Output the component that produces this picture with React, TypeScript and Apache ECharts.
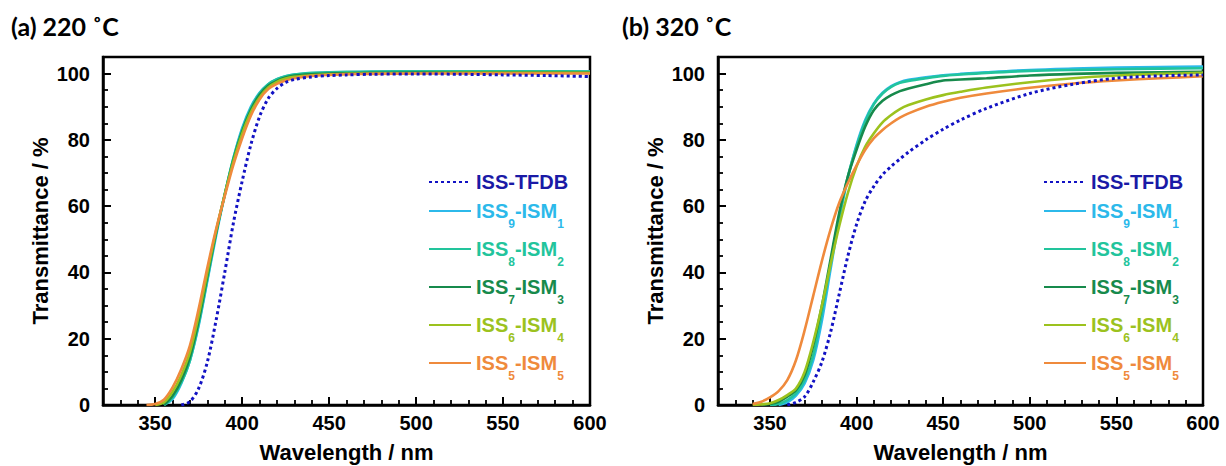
import React, { useEffect, useRef } from 'react';
import * as echarts from 'echarts';

// Wavelength sampling (nm) shared by every curve
const WAVELENGTH = [320, 330, 340, 345, 350, 355, 360, 365, 370, 375, 380, 385, 390, 395, 400, 405, 410, 415, 420, 425, 430, 440, 450, 460, 475, 500, 525, 550, 575, 600];

// Tick label lists
const X_TICKS = [320, 330, 340, 350, 360, 370, 380, 390, 400, 410, 420, 430, 440, 450, 460, 470, 480, 490, 500, 510, 520, 530, 540, 550, 560, 570, 580, 590, 600];
const Y_TICKS = [0, 5, 10, 15, 20, 25, 30, 35, 40, 45, 50, 55, 60, 65, 70, 75, 80, 85, 90, 95, 100, 105];

const SERIES_NAMES = ['ISS-TFDB', 'ISS9-ISM1', 'ISS8-ISM2', 'ISS7-ISM3', 'ISS6-ISM4', 'ISS5-ISM5'];
const LINE_COLORS = ['#1212c4', '#2cb9ea', '#22c49c', '#178a4c', '#9cc21e', '#ef8a3c'];
const TEXT_COLORS = ['#1a1aa6', '#2cb9ea', '#22c49c', '#178a4c', '#9cc21e', '#ef8a3c'];
const PANEL_TITLES = ['(a) 220 ˚C', '(b) 320 ˚C'];

const n = null;
// (a) 220 °C transmittance (%)
const T220_TFDB = [n, n, n, n, n, n, n, 0, 1, 5, 13, 25.5, 40, 55, 67.5, 78.5, 87, 92.5, 95.5, 97.3, 98.2, 99, 99.4, 99.6, 99.8, 99.9, 99.8, 99.6, 99.4, 99.1];
const T220_ISS9 = [n, n, n, n, n, 0, 1.8, 6.5, 13.5, 24, 37.5, 51, 63.5, 74.5, 83.5, 90, 94.2, 96.8, 98.3, 99.2, 99.7, 100.1, 100.3, 100.4, 100.5, 100.6, 100.6, 100.6, 100.6, 100.6];
const T220_ISS8 = [n, n, n, n, n, 0, 2.3, 6.8, 13.5, 24.5, 38, 51.8, 63.5, 74.5, 83, 89.5, 94, 96.8, 98.3, 99.2, 99.7, 100.2, 100.4, 100.5, 100.6, 100.7, 100.7, 100.7, 100.7, 100.6];
const T220_ISS7 = [n, n, n, n, n, 0, 2.8, 7.5, 14.5, 25.5, 39, 52, 63.5, 74, 82.5, 89, 93.5, 96.3, 97.8, 98.8, 99.4, 99.8, 100, 100.1, 100.2, 100.3, 100.3, 100.3, 100.3, 100.3];
const T220_ISS6 = [n, n, n, n, 0, 0.8, 4, 9, 16, 27, 40, 52.5, 63.5, 73.5, 81.8, 88.3, 92.8, 95.8, 97.5, 98.5, 99, 99.5, 99.8, 99.9, 100, 100.1, 100.2, 100.2, 100.2, 100.2];
const T220_ISS5 = [n, n, n, 0, 0.3, 1.6, 5.3, 10.8, 18, 29, 41.5, 53, 63, 72.5, 80.5, 87.3, 92.2, 95.3, 96.9, 97.9, 98.6, 99.3, 99.6, 99.8, 99.9, 100, 100, 100, 100, 100];

// (b) 320 °C transmittance (%)
const T320_TFDB = [n, n, n, n, n, n, 0, 0.8, 2.5, 7, 13, 22, 33.5, 45, 54.5, 61.5, 66, 69.5, 72, 74.2, 76.3, 80, 83.2, 86, 89.5, 94, 96.8, 98.6, 99.3, 99.6];
const T320_ISS9 = [n, n, n, n, n, 0, 0.8, 2.8, 6.5, 13.5, 25.5, 41, 56, 68.5, 78.5, 86, 91, 94.2, 96.2, 97.4, 98.1, 98.9, 99.5, 99.9, 100.4, 101.1, 101.5, 101.8, 102, 102.1];
const T320_ISS8 = [n, n, n, n, 0, 0.3, 1.5, 3.5, 7.5, 15, 28, 43, 57, 69, 78, 85.5, 90.8, 94, 96, 97.2, 97.8, 98.6, 99.3, 99.7, 100.2, 100.8, 101.1, 101.3, 101.5, 101.6];
const T320_ISS7 = [n, n, n, 0, 0.3, 1, 2.5, 4.5, 9, 18, 30, 44, 58, 69, 77, 84, 89, 91.8, 93.5, 94.7, 95.5, 96.8, 97.9, 98.2, 98.6, 99.4, 99.9, 100.2, 100.4, 100.5];
const T320_ISS6 = [n, n, 0, 0.2, 0.5, 1.5, 3, 5, 10, 19, 30, 42.5, 54, 64, 72, 78, 82, 85.3, 87.5, 89.3, 90.5, 92.2, 93.5, 94.5, 95.8, 97.4, 98.6, 99.4, 99.9, 100.2];
const T320_ISS5 = [n, n, 0.3, 1, 2.3, 4.2, 7.5, 13.5, 22.5, 33, 43.5, 53, 61, 67, 72.3, 77, 80.5, 83, 85, 86.7, 88, 90, 91.5, 92.7, 94, 95.7, 97, 97.9, 98.6, 99.2];

const PANEL_DATA = [
  [T220_TFDB, T220_ISS9, T220_ISS8, T220_ISS7, T220_ISS6, T220_ISS5],
  [T320_TFDB, T320_ISS9, T320_ISS8, T320_ISS7, T320_ISS6, T320_ISS5],
];

const FONT = '"Liberation Sans", Arial, Helvetica, sans-serif';
const GRIDS = [
  { left: 103, top: 57, width: 487, height: 348 },
  { left: 718, top: 57, width: 485, height: 348 },
];
const LEGEND_LEFT = [428, 1043];

function richName(name: string) {
  const m = name.match(/^ISS(\d)-ISM(\d)$/);
  if (m) return `{m|ISS}{s|${m[1]}}{m|-ISM}{s|${m[2]}}`;
  return `{m|${name}}`;
}

function buildOption() {
  const rich = {
    m: { fontSize: 20, fontWeight: 'bold', fontFamily: FONT, lineHeight: 22 },
    s: { fontSize: 12, fontWeight: 'bold', fontFamily: FONT, lineHeight: 12, padding: [26, 0, 0, 0] },
  };

  const xAxis: any[] = [];
  const yAxis: any[] = [];
  const series: any[] = [];
  const legend: any[] = [];
  const title: any[] = [];

  GRIDS.forEach((g, p) => {
    // value axes (minor ticks, used by series)
    xAxis.push({
      type: 'value', gridIndex: p, min: 320, max: 600, interval: 10, position: 'bottom',
      axisLine: { show: true, lineStyle: { color: '#000', width: 2.5 } },
      axisTick: { show: true, inside: true, length: 5, lineStyle: { color: '#000', width: 1.8 } },
      axisLabel: { show: false }, splitLine: { show: false },
    });
    xAxis.push({
      type: 'category', gridIndex: p, data: X_TICKS.map(String), boundaryGap: false, position: 'bottom',
      axisLine: { show: false },
      axisTick: { show: true, inside: true, length: 8, interval: (i: number, v: string) => Number(v) % 50 === 0, lineStyle: { color: '#000', width: 2 } },
      axisLabel: { show: true, interval: (i: number, v: string) => Number(v) % 50 === 0 && Number(v) > 320, margin: 8, color: '#000', fontSize: 20, fontWeight: 'bold', fontFamily: FONT },
      name: 'Wavelength / nm', nameLocation: 'middle', nameGap: 36,
      nameTextStyle: { color: '#000', fontSize: 22, fontWeight: 'bold', fontFamily: FONT },
      splitLine: { show: false },
    });
    yAxis.push({
      type: 'value', gridIndex: p, min: 0, max: 105, interval: 5, position: 'left',
      axisLine: { show: true, lineStyle: { color: '#000', width: 2.5 } },
      axisTick: { show: true, inside: true, length: 5, lineStyle: { color: '#000', width: 1.8 } },
      axisLabel: { show: false }, splitLine: { show: false },
    });
    yAxis.push({
      type: 'category', gridIndex: p, data: Y_TICKS.map(String), boundaryGap: false, position: 'left',
      axisLine: { show: false },
      axisTick: { show: true, inside: true, length: 8, interval: (i: number, v: string) => Number(v) % 20 === 0 && Number(v) <= 100, lineStyle: { color: '#000', width: 2 } },
      axisLabel: { show: true, interval: (i: number, v: string) => Number(v) % 20 === 0 && Number(v) <= 100, margin: 13, color: '#000', fontSize: 20, fontWeight: 'bold', fontFamily: FONT },
      name: 'Transmittance / %', nameLocation: 'middle', nameGap: 52, nameRotate: 90,
      nameTextStyle: { color: '#000', fontSize: 22, fontWeight: 'bold', fontFamily: FONT },
      splitLine: { show: false },
    });

    // draw order: coloured curves first, dotted reference on top
    const order = [1, 2, 3, 4, 5, 0];
    order.forEach((k) => {
      const vals = PANEL_DATA[p][k];
      series.push({
        type: 'line', name: SERIES_NAMES[k], xAxisIndex: p * 2, yAxisIndex: p * 2,
        data: WAVELENGTH.map((w, i) => [w, vals[i]]),
        symbol: 'none', showSymbol: false, smooth: 0.3, connectNulls: false,
        lineStyle: { color: LINE_COLORS[k], width: k === 0 ? 3 : 2.6, type: k === 0 ? [3, 3] : 'solid' },
        itemStyle: { color: LINE_COLORS[k] },
        emphasis: { disabled: true },
      });
    });

    legend.push({
      orient: 'vertical', left: LEGEND_LEFT[p], top: 172, padding: 0, itemGap: 0,
      itemWidth: 42, itemHeight: 14, selectedMode: false,
      itemStyle: { opacity: 0, borderWidth: 0 },
      data: SERIES_NAMES.map((nm, k) => ({ name: nm, textStyle: { color: TEXT_COLORS[k], rich } })),
      formatter: richName,
      textStyle: { fontFamily: FONT, fontWeight: 'bold', fontSize: 20, rich },
    });

    title.push({
      text: PANEL_TITLES[p], left: p === 0 ? 11 : 622, top: 13, padding: 0,
      textStyle: { color: '#000', fontSize: 25, fontWeight: 'bold', fontFamily: 'Lato, "Open Sans", sans-serif' },
    });
  });

  return {
    animation: false,
    backgroundColor: '#fff',
    title,
    grid: GRIDS.map((g) => ({ ...g, show: true, borderColor: '#000', borderWidth: 2.5, backgroundColor: 'transparent', outerBoundsMode: 'none', containLabel: false })),
    xAxis, yAxis, legend, series,
  };
}

export default function App() {
  const ref = useRef<HTMLDivElement>(null);
  useEffect(() => {
    const chart = echarts.init(ref.current as HTMLDivElement, null, { renderer: 'svg' });
    chart.setOption(buildOption());
    return () => chart.dispose();
  }, []);
  return <div ref={ref} style={{ position: 'absolute', left: 0, top: 0, width: 1226, height: 466 }} />;
}
